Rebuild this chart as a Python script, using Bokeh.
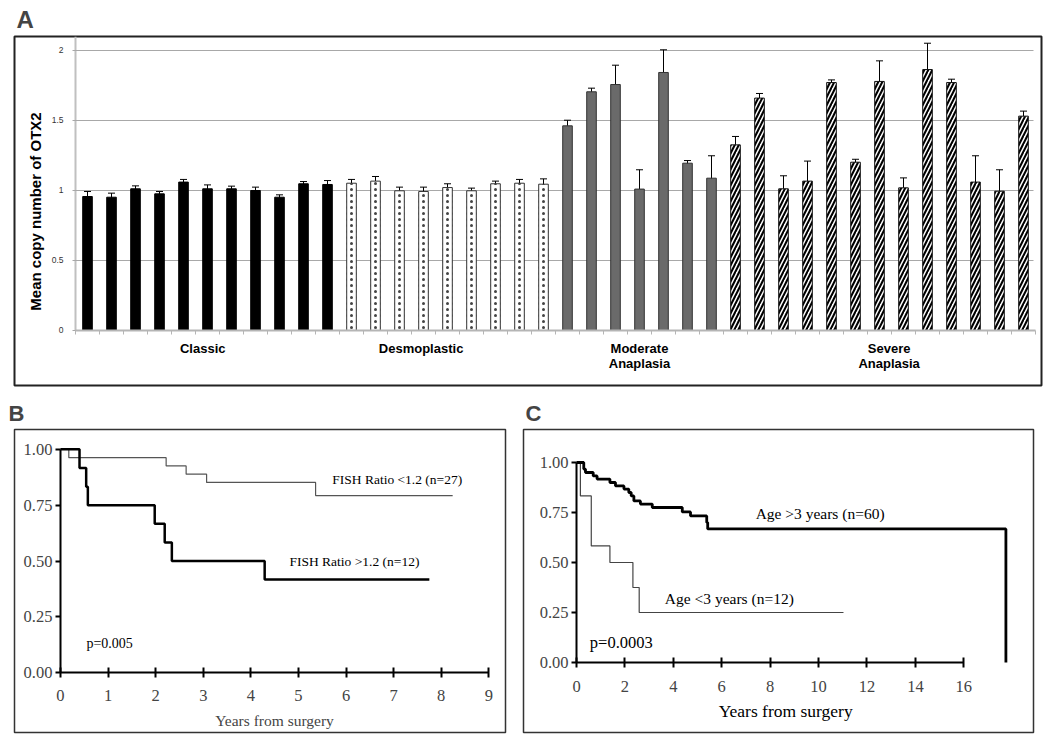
import math
from bokeh.plotting import figure
from bokeh.models import (ColumnDataSource, Whisker, TeeHead, FixedTicker,
                          NumeralTickFormatter, Label, Range1d, CustomJSTickFormatter)
from bokeh.layouts import column, row
from bokeh.embed import file_html
from bokeh.resources import INLINE

# ---------------- Panel A data: mean OTX2 copy number (+/- error) ----------------
classic_mean = [0.957, 0.952, 1.012, 0.976, 1.060, 1.012, 1.012, 1.000, 0.952, 1.048, 1.043]
classic_err = [0.036, 0.029, 0.021, 0.017, 0.019, 0.028, 0.019, 0.024, 0.017, 0.016, 0.028]
desmo_mean = [1.052, 1.067, 0.998, 0.993, 1.021, 0.998, 1.048, 1.052, 1.045]
desmo_err = [0.027, 0.033, 0.026, 0.031, 0.027, 0.019, 0.019, 0.027, 0.038]
moderate_mean = [1.462, 1.705, 1.757, 1.010, 1.843, 1.195, 1.088]
moderate_err = [0.040, 0.026, 0.138, 0.138, 0.162, 0.019, 0.160]
severe_mean = [1.326, 1.660, 1.012, 1.067, 1.771, 1.202, 1.779, 1.019, 1.864, 1.771, 1.060, 0.995, 1.531]
severe_err = [0.060, 0.033, 0.093, 0.143, 0.019, 0.021, 0.147, 0.071, 0.188, 0.024, 0.188, 0.153, 0.036]
group_names = ["Classic", "Desmoplastic", "Moderate\nAnaplasia", "Severe\nAnaplasia"]
a_yticks = [0, 0.5, 1, 1.5, 2]
a_ylabel = "Mean copy number of OTX2"

# ---------------- Panel B data: Kaplan-Meier, FISH ratio ----------------
b_low_t = [0, 0.175, 2.22, 2.64, 3.07, 5.36, 8.24]
b_low_s = [1.0, 0.963, 0.926, 0.889, 0.852, 0.793, 0.793]
b_high_t = [0, 0.40, 0.54, 0.575, 1.98, 2.19, 2.34, 4.29, 7.75]
b_high_s = [1.0, 0.917, 0.833, 0.750, 0.667, 0.583, 0.500, 0.417, 0.417]
b_xticks = [0, 1, 2, 3, 4, 5, 6, 7, 8, 9]
b_low_label = "FISH Ratio <1.2 (n=27)"
b_high_label = "FISH Ratio >1.2 (n=12)"
b_p = "p=0.005"

# ---------------- Panel C data: Kaplan-Meier, age ----------------
c_old_t = [0, 0.30, 0.37, 0.69, 0.85, 1.38, 1.61, 1.96, 2.16, 2.26, 2.37, 2.64, 3.13,
           4.37, 4.71, 5.38, 5.42, 17.74]
c_old_s = [1.0, 0.967, 0.950, 0.933, 0.917, 0.900, 0.883, 0.867, 0.850, 0.833, 0.808, 0.792,
           0.775, 0.753, 0.733, 0.700, 0.668, 0.0]
c_young_t = [0, 0.16, 0.61, 1.38, 2.33, 2.59, 11.03]
c_young_s = [1.0, 0.833, 0.583, 0.500, 0.375, 0.250, 0.250]
c_xticks = [0, 2, 4, 6, 8, 10, 12, 14, 16]
c_old_label = "Age >3 years (n=60)"
c_young_label = "Age <3 years (n=12)"
c_p = "p=0.0003"

km_yticks = [0, 0.25, 0.5, 0.75, 1.0]
x_title = "Years from surgery"

SANS = "Liberation Sans"
SERIF = "Liberation Serif"


def panel_title(p, letter, size, offset, standoff):
    p.title.text = letter
    p.title.text_font = SANS
    p.title.text_font_size = size
    p.title.text_font_style = "bold"
    p.title.align = "left"
    p.title.offset = offset
    p.title.standoff = standoff


# ================= Panel A =================
pA = figure(width=1050, height=390, x_range=Range1d(-3.042, 39.75), y_range=Range1d(-0.393, 2.1),
            output_backend="svg", toolbar_location=None,
            min_border_left=14, min_border_right=9, min_border_top=36, min_border_bottom=5)
panel_title(pA, "A", "24px", 2, 7)
pA.outline_line_color = "#222222"
pA.outline_line_width = 2
pA.xgrid.visible = False
pA.ygrid.visible = False

group_means = [classic_mean, desmo_mean, moderate_mean, severe_mean]
group_errs = [classic_err, desmo_err, moderate_err, severe_err]
styles = [
    dict(fill_color="black", line_color="black"),
    dict(fill_color="white", line_color="#333333", hatch_pattern="dot", hatch_color="#444444",
         hatch_scale=6, hatch_weight=0.5),
    dict(fill_color="#6a6a6a", line_color="#333333"),
    dict(fill_color="white", line_color="#111111", hatch_pattern="/", hatch_color="black",
         hatch_scale=8, hatch_weight=2.1),
]
start = 0
for means, errs, st in zip(group_means, group_errs, styles):
    idx = list(range(start, start + len(means)))
    src = ColumnDataSource(dict(x=idx, top=means,
                                upper=[m + e for m, e in zip(means, errs)],
                                lower=[m - e for m, e in zip(means, errs)]))
    pA.vbar(x="x", top="top", bottom=0, width=0.4, line_width=1, source=src, **st)
    pA.add_layout(Whisker(source=src, base="x", upper="upper", lower="lower",
                          line_color="black", line_width=1,
                          upper_head=TeeHead(size=7, line_color="black", line_width=1),
                          lower_head=TeeHead(size=7, line_color="black", line_width=1)))
    start += len(means)
n_bars = start

# group names as the category axis labels; slot boundaries as minor ticks
label_x = [4.8, 13.9, 23.0, 33.4]
xa = pA.xaxis[0]
xa.fixed_location = 0
xa.bounds = (-0.5, n_bars - 0.5)
xa.ticker = FixedTicker(ticks=label_x, minor_ticks=[i - 0.5 for i in range(n_bars + 1)])
xa.formatter = CustomJSTickFormatter(args=dict(pos=label_x, names=group_names), code="""
    let best = 0;
    for (let i = 0; i < pos.length; i++) {
        if (Math.abs(pos[i] - tick) < Math.abs(pos[best] - tick)) best = i;
    }
    return names[best];
""")
xa.major_label_text_font = SANS
xa.major_label_text_font_size = "13px"
xa.major_label_text_font_style = "bold"
xa.major_label_text_color = "black"
xa.major_label_text_line_height = 1.0
xa.major_label_standoff = 7
xa.major_tick_line_color = None
xa.major_tick_in = 0
xa.major_tick_out = 0
xa.axis_line_color = "#b5b5b5"
xa.axis_line_width = 2
xa.minor_tick_line_color = "#b5b5b5"
xa.minor_tick_in = 0
xa.minor_tick_out = 4

ya = pA.yaxis[0]
ya.fixed_location = -0.5
ya.bounds = (0, 2.1)
ya.ticker = FixedTicker(ticks=a_yticks)
ya.formatter = NumeralTickFormatter(format="0.[0]")
ya.major_label_text_font = SANS
ya.major_label_text_font_size = "8.5px"
ya.major_label_text_color = "#333333"
ya.major_label_standoff = 9
ya.axis_line_color = "#c0c0c0"
ya.axis_line_width = 2
ya.major_tick_line_color = "#a8a8a8"
ya.major_tick_out = 3
ya.major_tick_in = 958
ya.minor_tick_line_color = None
ya.level = "underlay"

pA.add_layout(Label(x=-2.17, y=0.85, text=a_ylabel, angle=math.pi / 2,
                    text_align="center", text_baseline="middle",
                    text_font=SANS, text_font_size="15px", text_font_style="bold",
                    text_color="black"))


def km_axes(p, xticks, xbounds, tick_size, xstandoff):
    xa = p.xaxis[0]
    xa.fixed_location = 0
    xa.bounds = xbounds
    xa.ticker = FixedTicker(ticks=xticks)
    xa.axis_line_color = "black"
    xa.axis_line_width = 2
    xa.major_tick_line_color = "black"
    xa.major_tick_line_width = 2
    xa.major_tick_in = 5
    xa.major_tick_out = 5
    xa.minor_tick_line_color = None
    xa.major_label_text_font = SERIF
    xa.major_label_text_font_size = tick_size
    xa.major_label_standoff = xstandoff
    ya = p.yaxis[0]
    ya.fixed_location = 0
    ya.bounds = (0, 1)
    ya.ticker = FixedTicker(ticks=km_yticks)
    ya.formatter = NumeralTickFormatter(format="0.00")
    ya.axis_line_color = "black"
    ya.axis_line_width = 2
    ya.major_tick_line_color = "black"
    ya.major_tick_line_width = 2
    ya.major_tick_in = 0
    ya.major_tick_out = 5
    ya.minor_tick_line_color = None
    ya.major_label_text_font = SERIF
    ya.major_label_text_font_size = tick_size
    ya.major_label_standoff = 3
    p.xgrid.visible = False
    p.ygrid.visible = False
    p.outline_line_color = "#333333"
    p.outline_line_width = 1.5


# ================= Panel B =================
pB = figure(width=520, height=349, x_range=Range1d(-0.966, 9.35), y_range=Range1d(-0.268, 1.089),
            output_backend="svg", toolbar_location=None,
            min_border_left=14, min_border_right=15, min_border_top=39, min_border_bottom=6)
panel_title(pB, "B", "22px", -6, 8)
km_axes(pB, b_xticks, (0, 9), "16.5px", 12)
pB.xaxis[0].axis_label = x_title
pB.xaxis[0].axis_label_text_font = SERIF
pB.xaxis[0].axis_label_text_font_size = "15.5px"
pB.xaxis[0].axis_label_text_font_style = "normal"
pB.xaxis[0].axis_label_standoff = 8
pB.step(b_low_t, b_low_s, mode="after", line_color="#555555", line_width=1.2)
pB.step(b_high_t, b_high_s, mode="after", line_color="black", line_width=2.5)
for txt, x, y, size in [(b_low_label, 5.71, 0.866, "13.5px"),
                        (b_high_label, 4.81, 0.496, "13.5px"),
                        (b_p, 0.546, 0.129, "14px")]:
    pB.add_layout(Label(x=x, y=y, text=txt, text_align="left", text_baseline="middle",
                        text_font=SERIF, text_font_size=size, text_color="black"))

# ================= Panel C =================
pC = figure(width=530, height=349, x_range=Range1d(-2.19, 18.88), y_range=Range1d(-0.35, 1.165),
            output_backend="svg", toolbar_location=None,
            min_border_left=3, min_border_right=17, min_border_top=39, min_border_bottom=7)
panel_title(pC, "C", "22px", 2, 8)
km_axes(pC, c_xticks, (0, 16), "16.5px", 13)
pC.step(c_young_t, c_young_s, mode="after", line_color="#444444", line_width=1.2)
pC.step(c_old_t, c_old_s, mode="after", line_color="black", line_width=2.8)
for txt, x, y, size in [(c_old_label, 7.40, 0.743, "15.5px"),
                        (c_young_label, 3.65, 0.318, "15.5px"),
                        (c_p, 0.55, 0.098, "16.5px")]:
    pC.add_layout(Label(x=x, y=y, text=txt, text_align="left", text_baseline="middle",
                        text_font=SERIF, text_font_size=size, text_color="black"))
pC.add_layout(Label(x=8.64, y=-0.243, text=x_title, text_align="center", text_baseline="middle",
                    text_font=SERIF, text_font_size="17.5px", text_color="black"))

layout = column(pA, row(pB, pC))
open("out.html", "w").write(file_html(layout, INLINE))
